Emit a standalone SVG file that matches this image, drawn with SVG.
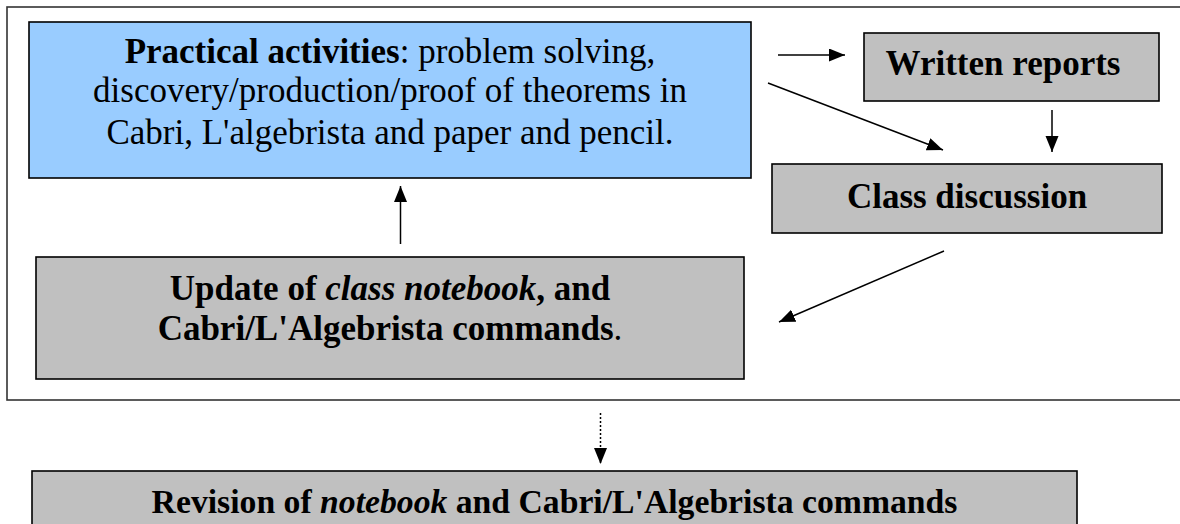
<svg xmlns="http://www.w3.org/2000/svg" width="1180" height="524" viewBox="0 0 1180 524">
<style>
.box{stroke:#000;stroke-width:1.6}
.blue{fill:#99CCFF}
.gray{fill:#C0C0C0}
.t{font-family:"Liberation Serif","Times New Roman",serif;font-size:35px;fill:#000;text-anchor:middle}
.b{font-weight:bold}
.i{font-style:italic}
.r{font-size:33.7px}
.c{stroke:#000;stroke-width:1.5;fill:none;marker-end:url(#ah)}
.d{stroke-dasharray:2 2}
</style>
<defs>
<marker id="ah" markerUnits="userSpaceOnUse" markerWidth="18" markerHeight="14" refX="16" refY="6.5" orient="auto">
<path d="M0,0 L16,6.5 L0,13 z" fill="#000"/>
</marker>
</defs>
<rect id="frame" x="7" y="7" width="1190" height="393" fill="none" stroke="#333" stroke-width="1.6"/>
<g id="practical">
<rect class="box blue" x="29" y="22" width="722" height="156"/>
<text class="t" x="390" y="63"><tspan class="b">Practical activities</tspan>: problem solving,</text>
<text class="t" x="390" y="102">discovery/production/proof of theorems in</text>
<text class="t" x="390" y="144">Cabri, L'algebrista and paper and pencil.</text>
</g>
<g id="written">
<rect class="box gray" x="864" y="33" width="295" height="68"/>
<text class="t b" x="1003" y="75">Written reports</text>
</g>
<g id="discussion">
<rect class="box gray" x="772" y="164" width="390" height="69"/>
<text class="t b" x="967" y="208">Class discussion</text>
</g>
<g id="update">
<rect class="box gray" x="36" y="257" width="708" height="122"/>
<text class="t b" x="390" y="300">Update of <tspan class="i">class notebook</tspan>, and</text>
<text class="t" x="390" y="340"><tspan class="b">Cabri/L'Algebrista commands</tspan>.</text>
</g>
<g id="revision">
<rect class="box gray" x="32" y="471" width="1045" height="70"/>
<text class="t b r" x="554.5" y="513">Revision of <tspan class="i">notebook</tspan> and Cabri/L'Algebrista commands</text>
</g>
<g id="connectors">
<line class="c" x1="778" y1="55" x2="845" y2="55"/>
<line class="c" x1="768" y1="83" x2="943" y2="150"/>
<line class="c" x1="1052" y1="110" x2="1052" y2="152"/>
<line class="c" x1="944" y1="251" x2="779" y2="322"/>
<line class="c" x1="400.5" y1="244" x2="400.5" y2="186"/>
<line class="c d" x1="600.5" y1="413" x2="600.5" y2="464"/>
</g>
</svg>
